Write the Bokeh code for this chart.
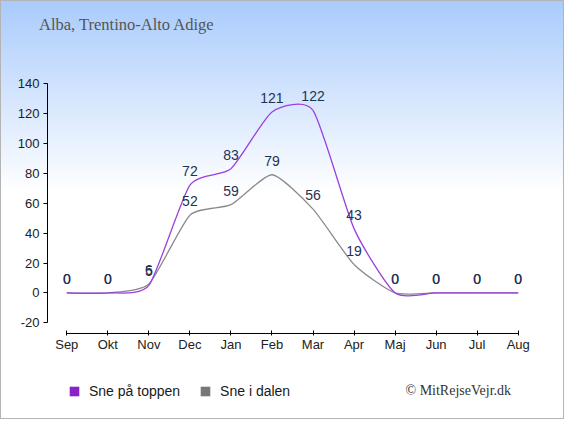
from bokeh.plotting import figure
from bokeh.models import Label, Legend, LegendItem, FixedTicker, ColumnDataSource, Div
from bokeh.layouts import column
from bokeh.core.properties import value
from bokeh.embed import file_html
from bokeh.resources import INLINE

months = ["Sep", "Okt", "Nov", "Dec", "Jan", "Feb", "Mar", "Apr", "Maj", "Jun", "Jul", "Aug"]
sne_toppen = [0, 0, 5, 72, 83, 121, 122, 43, 0, 0, 0, 0]
sne_dalen = [0, 0, 6, 52, 59, 79, 56, 19, 0, 0, 0, 0]
y_ticks = [-20, 0, 20, 40, 60, 80, 100, 120, 140]
title_text = "Alba, Trentino-Alto Adige"
credit_text = "\u00a9 MitRejseVejr.dk"
series_names = ["Sne p\u00e5 toppen", "Sne i dalen"]

PURPLE_LINE = "#9a3fe0"
PURPLE = "#8a22cc"
GREY_LINE = "#8a8a8a"
GREY = "#777777"
LABEL_COLOR = "#1f3252"

W = 564
H0, H1, H2 = 48, 317, 54
FL, FR = 47, 27

head = Div(text=title_text, width=W, height=H0, margin=0,
           styles={"font-family": "Liberation Serif", "font-size": "16.5px", "color": "#555555",
                   "padding-left": "39px", "padding-top": "16px", "box-sizing": "border-box",
                   "line-height": "18px", "white-space": "nowrap"})

p = figure(width=W, height=H1, output_backend="svg", toolbar_location=None,
           x_range=(-0.47, 11.47), y_range=(-27.1, 140),
           min_border_left=FL, min_border_right=FR, min_border_top=35, min_border_bottom=32)
p.title.visible = False
p.border_fill_color = None
p.background_fill_color = None
p.outline_line_color = None
p.grid.visible = False


def bezier_source(vals, k=0.1):
    n = len(vals)
    xs = list(range(n))
    d = dict(x0=[], y0=[], x1=[], y1=[], cx0=[], cy0=[], cx1=[], cy1=[])
    for i in range(n - 1):
        im1 = max(i - 1, 0)
        ip2 = min(i + 2, n - 1)
        d["x0"].append(xs[i]); d["y0"].append(vals[i])
        d["x1"].append(xs[i + 1]); d["y1"].append(vals[i + 1])
        d["cx0"].append(xs[i] + (xs[i + 1] - xs[im1]) * k)
        d["cy0"].append(vals[i] + (vals[i + 1] - vals[im1]) * k)
        d["cx1"].append(xs[i + 1] - (xs[ip2] - xs[i]) * k)
        d["cy1"].append(vals[i + 1] - (vals[ip2] - vals[i]) * k)
    return ColumnDataSource(d)


p.bezier(x0="x0", y0="y0", x1="x1", y1="y1", cx0="cx0", cy0="cy0", cx1="cx1", cy1="cy1",
         source=bezier_source(sne_dalen), line_color=GREY_LINE, line_width=1.3)
p.bezier(x0="x0", y0="y0", x1="x1", y1="y1", cx0="cx0", cy0="cy0", cx1="cx1", cy1="cy1",
         source=bezier_source(sne_toppen), line_color=PURPLE_LINE, line_width=1.3)

xi = list(range(len(months)))
for vals in (sne_toppen, sne_dalen):
    p.text(x=xi, y=vals, text=[str(v) for v in vals], text_align="center", text_baseline="middle",
           y_offset=-14, text_font=value("Liberation Sans"), text_font_size="14px",
           text_color=LABEL_COLOR)

# axes
xa = p.xaxis[0]
xa.ticker = FixedTicker(ticks=xi)
xa.major_label_overrides = {i: m for i, m in enumerate(months)}
xa.bounds = (0, len(months) - 1)
xa.minor_tick_line_color = None
xa.major_tick_in = 3
xa.major_tick_out = 2
xa.major_label_standoff = 1
xa.axis_line_color = "#000000"
xa.major_tick_line_color = "#000000"
xa.major_label_text_font = "Liberation Sans"
xa.major_label_text_font_size = "13px"
xa.major_label_text_color = "#222222"

ya = p.yaxis[0]
ya.ticker = FixedTicker(ticks=y_ticks)
ya.major_label_overrides = {t: str(t) for t in y_ticks}
ya.bounds = (y_ticks[0], y_ticks[-1])
ya.minor_tick_line_color = None
ya.major_tick_in = 0
ya.major_tick_out = 4
ya.major_label_standoff = 4
ya.axis_line_color = "#000000"
ya.major_tick_line_color = "#000000"
ya.major_label_text_font = "Liberation Sans"
ya.major_label_text_font_size = "13px"
ya.major_label_text_color = "#222222"

# bottom strip: legend and credit (data space = pixel space of the strip)
q = figure(width=W, height=H2, output_backend="svg", toolbar_location=None,
           x_range=(FL, W - FR), y_range=(0, H2), x_axis_type=None, y_axis_type=None,
           min_border_left=FL, min_border_right=FR, min_border_top=0, min_border_bottom=0)
q.title.visible = False
q.border_fill_color = None
q.background_fill_color = None
q.outline_line_color = None
q.grid.visible = False

nan = float("nan")
r1 = q.quad(left=[nan], right=[nan], top=[nan], bottom=[nan], fill_color=PURPLE, line_color=None)
r2 = q.quad(left=[nan], right=[nan], top=[nan], bottom=[nan], fill_color=GREY, line_color=None)
legend = Legend(items=[LegendItem(label=series_names[0], renderers=[r1]),
                       LegendItem(label=series_names[1], renderers=[r2])],
                orientation="horizontal", location=(21, 20),
                background_fill_alpha=0, border_line_color=None,
                glyph_width=12, glyph_height=12, label_standoff=9, spacing=19,
                padding=0, margin=0,
                label_text_font="Liberation Sans", label_text_font_size="14px",
                label_text_color="#1a1a1a")
q.add_layout(legend, "center")
q.add_layout(Label(x=405, y=29, text=credit_text,
                   text_font="Liberation Serif", text_font_size="14px", text_color="#333333",
                   text_baseline="middle"))

layout = column(head, p, q, spacing=0, width=W, height=H0 + H1 + H2)
layout.styles = {"background-image": "linear-gradient(to bottom, #a9cbfc 0%, #ffffff 46%, #ffffff 100%)",
                 "outline": "1px solid #b4b4b4", "outline-offset": "-1px"}

open("out.html", "w").write(file_html(layout, INLINE))
